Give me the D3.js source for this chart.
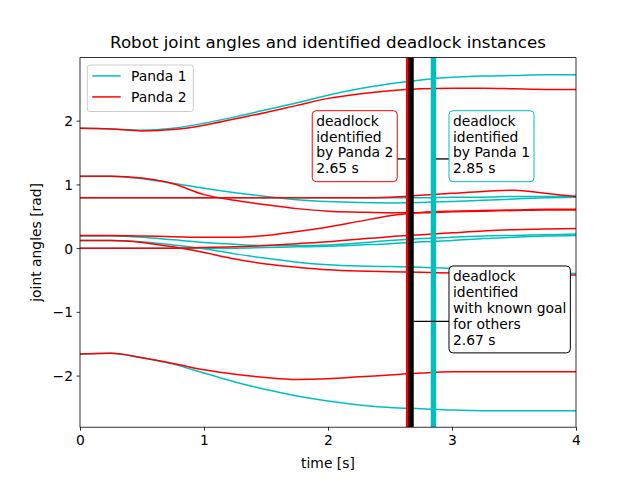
<!DOCTYPE html>
<html><head><meta charset="utf-8">
<script src="https://cdn.jsdelivr.net/npm/d3@7"></script>
<style>body{margin:0;background:#fff} svg{display:block} text{font-family:"DejaVu Sans",sans-serif;fill:#000}</style>
</head><body><svg id="c" width="640" height="480"></svg>
<script>
// ---- data ----
const time = [0, 0.25, 0.5, 0.75, 1.0, 1.25, 1.5, 1.75, 2.0, 2.25, 2.5, 2.75, 3.0, 3.25, 3.5, 3.75, 4.0];
const panda1Joints = [
  [1.88, 1.87, 1.85, 1.88, 1.96, 2.06, 2.17, 2.28, 2.40, 2.50, 2.58, 2.64, 2.68, 2.70, 2.71, 2.72, 2.72],
  [1.13, 1.13, 1.09, 1.02, 0.94, 0.87, 0.81, 0.76, 0.73, 0.715, 0.71, 0.715, 0.73, 0.75, 0.77, 0.79, 0.80],
  [0.79, 0.79, 0.79, 0.79, 0.79, 0.79, 0.79, 0.79, 0.79, 0.79, 0.79, 0.79, 0.80, 0.80, 0.81, 0.81, 0.82],
  [0.19, 0.19, 0.17, 0.13, 0.09, 0.06, 0.04, 0.04, 0.05, 0.08, 0.12, 0.15, 0.17, 0.19, 0.20, 0.21, 0.22],
  [0.12, 0.12, 0.10, 0.05, -0.01, -0.09, -0.16, -0.22, -0.26, -0.28, -0.29, -0.30, -0.32, -0.34, -0.36, -0.38, -0.40],
  [0.00, 0.00, 0.00, 0.00, 0.00, 0.00, 0.01, 0.02, 0.03, 0.05, 0.07, 0.10, 0.12, 0.15, 0.17, 0.19, 0.20],
  [-1.66, -1.65, -1.72, -1.82, -1.96, -2.10, -2.22, -2.32, -2.40, -2.46, -2.50, -2.52, -2.54, -2.55, -2.55, -2.55, -2.55]
];
const panda2Joints = [
  [1.88, 1.87, 1.84, 1.86, 1.93, 2.03, 2.13, 2.24, 2.35, 2.42, 2.47, 2.50, 2.51, 2.51, 2.50, 2.49, 2.49],
  [1.13, 1.13, 1.10, 1.01, 0.84, 0.75, 0.68, 0.62, 0.58, 0.565, 0.555, 0.555, 0.57, 0.58, 0.59, 0.60, 0.60],
  [0.79, 0.79, 0.79, 0.79, 0.79, 0.79, 0.79, 0.79, 0.79, 0.79, 0.80, 0.83, 0.86, 0.89, 0.91, 0.86, 0.81],
  [0.20, 0.20, 0.19, 0.18, 0.17, 0.17, 0.20, 0.26, 0.33, 0.42, 0.51, 0.56, 0.58, 0.59, 0.60, 0.61, 0.61],
  [0.12, 0.12, 0.09, 0.02, -0.07, -0.17, -0.25, -0.30, -0.34, -0.36, -0.37, -0.38, -0.39, -0.40, -0.41, -0.42, -0.42],
  [0.00, 0.00, 0.00, 0.00, 0.01, 0.02, 0.04, 0.07, 0.10, 0.14, 0.18, 0.21, 0.24, 0.27, 0.29, 0.30, 0.31],
  [-1.66, -1.65, -1.72, -1.81, -1.91, -1.98, -2.03, -2.06, -2.05, -2.02, -1.99, -1.96, -1.94, -1.94, -1.94, -1.94, -1.94]
];
const seriesNames = ["Panda 1", "Panda 2"];
const deadlockTimes = [2.65, 2.67, 2.85];
const deadlockLabels = [
  ["deadlock", "identified", "by Panda 2", "2.65 s"],
  ["deadlock", "identified", "with known goal", "for others", "2.67 s"],
  ["deadlock", "identified", "by Panda 1", "2.85 s"]
];
const annotationPointY = [1.4, -1.15, 1.4];
const xTicks = [0, 1, 2, 3, 4];
const yTicks = [-2, -1, 0, 1, 2];
const titleText = "Robot joint angles and identified deadlock instances";
const xLabel = "time [s]";
const yLabel = "joint angles [rad]";

// ---- layout / style ----
const svg = d3.select("#c");
const L = 80, R = 576, T = 57.6, B = 427.2;
const x = d3.scaleLinear().domain([0, 4]).range([L, R]);
const y = d3.scaleLinear().domain([-2.81, 2.99]).range([B, T]);
const colors = ["#00bfbf", "#ff0000"];
const vColors = ["#ff0000", "#000000", "#00bfbf"];
const boxEdge = ["#ff0000", "#000000", "#00bfbf"];
// text placement: [text left x (data), box top (data)]
const textPlace = [[1.905, 2.157], [3.008, -0.28], [3.008, 2.157]];
const FS = 13.89;

svg.append("defs").append("clipPath").attr("id", "clip")
  .append("rect").attr("x", L).attr("y", T).attr("width", R - L).attr("height", B - T);

const plot = svg.append("g").attr("clip-path", "url(#clip)");
const line = d3.line().x((d, i) => x(time[i])).y(d => y(d)).curve(d3.curveMonotoneX);

[panda1Joints, panda2Joints].forEach((joints, k) => {
  plot.selectAll(null).data(joints).enter().append("path")
    .attr("d", line).attr("fill", "none").attr("stroke", colors[k]).attr("stroke-width", 1.5);
});

deadlockTimes.forEach((t, i) => {
  plot.append("line").attr("x1", x(t)).attr("x2", x(t)).attr("y1", T).attr("y2", B)
    .attr("stroke", vColors[i]).attr("stroke-width", 5.33);
});

// axes
const xAxis = d3.axisBottom(x).tickValues(xTicks).tickSize(3.5).tickPadding(3.5).tickFormat(d3.format("d"));
const yAxis = d3.axisLeft(y).tickValues(yTicks).tickSize(3.5).tickPadding(3.5).tickFormat(d => d < 0 ? "\u2212" + Math.abs(d) : String(d));
const gx = svg.append("g").attr("transform", `translate(0,${B})`).call(xAxis);
const gy = svg.append("g").attr("transform", `translate(${L},0)`).call(yAxis);
[gx, gy].forEach(g => {
  g.select(".domain").remove();
  g.selectAll("line").attr("stroke", "#000").attr("stroke-width", 0.8);
  g.selectAll("text").attr("font-family", "DejaVu Sans").attr("font-size", FS).attr("fill", "#000");
});
gx.selectAll("text").attr("dy", null).attr("y", 17.4);
gy.selectAll("text").attr("dy", null).attr("y", 5);

svg.append("rect").attr("x", L).attr("y", T).attr("width", R - L).attr("height", B - T)
  .attr("fill", "none").attr("stroke", "#000").attr("stroke-width", 0.8);

// annotations
const LH = 15.9, PAD = 4;
deadlockLabels.forEach((lines, i) => {
  const [tx, tTop] = textPlace[i];
  const top = y(tTop);
  const g = svg.append("g");
  const box = g.append("rect");
  const txt = g.append("text").attr("font-size", FS).attr("text-anchor", "start");
  lines.forEach((s, j) => {
    txt.append("tspan").attr("x", x(tx)).attr("y", top + 15 + j * LH).text(s);
  });
  const bb = txt.node().getBBox();
  const bx = bb.x - PAD, bw = bb.width + 2 * PAD;
  const bh = 15 + (lines.length - 1) * LH + 8.3;
  box.attr("x", bx).attr("y", top).attr("width", bw).attr("height", bh)
    .attr("rx", 4).attr("ry", 4).attr("fill", "#fff")
    .attr("stroke", boxEdge[i]).attr("stroke-width", 1);
  const px = x(deadlockTimes[i]), py = y(annotationPointY[i]);
  const edge = (bx > px) ? bx : bx + bw;
  const start = (bx > px) ? px + 2.67 : px - 2.67;
  g.insert("line", "rect").attr("x1", start).attr("x2", edge).attr("y1", py).attr("y2", py)
    .attr("stroke", "#000").attr("stroke-width", 1.3);
});

// legend
const lg = svg.append("g");
lg.append("rect").attr("x", 87.3).attr("y", 65).attr("width", 106).attr("height", 46.5)
  .attr("rx", 2.7).attr("fill", "#fff").attr("fill-opacity", 0.8)
  .attr("stroke", "#cccccc").attr("stroke-width", 1);
seriesNames.forEach((n, i) => {
  const ly = 75.9 + i * 21;
  lg.append("line").attr("x1", 92.3).attr("x2", 120.7).attr("y1", ly).attr("y2", ly)
    .attr("stroke", colors[i]).attr("stroke-width", 1.5);
  lg.append("text").attr("x", 131).attr("y", ly + 5).attr("font-size", FS).text(n);
});

// title and labels
svg.append("text").attr("x", (L + R) / 2).attr("y", 48.3).attr("text-anchor", "middle")
  .attr("font-size", 16.67).text(titleText);
svg.append("text").attr("x", (L + R) / 2).attr("y", 468).attr("text-anchor", "middle")
  .attr("font-size", FS).text(xLabel);
svg.append("text").attr("transform", `translate(40.5,${(T + B) / 2}) rotate(-90)`)
  .attr("text-anchor", "middle").attr("font-size", FS).text(yLabel);
</script></body></html>
